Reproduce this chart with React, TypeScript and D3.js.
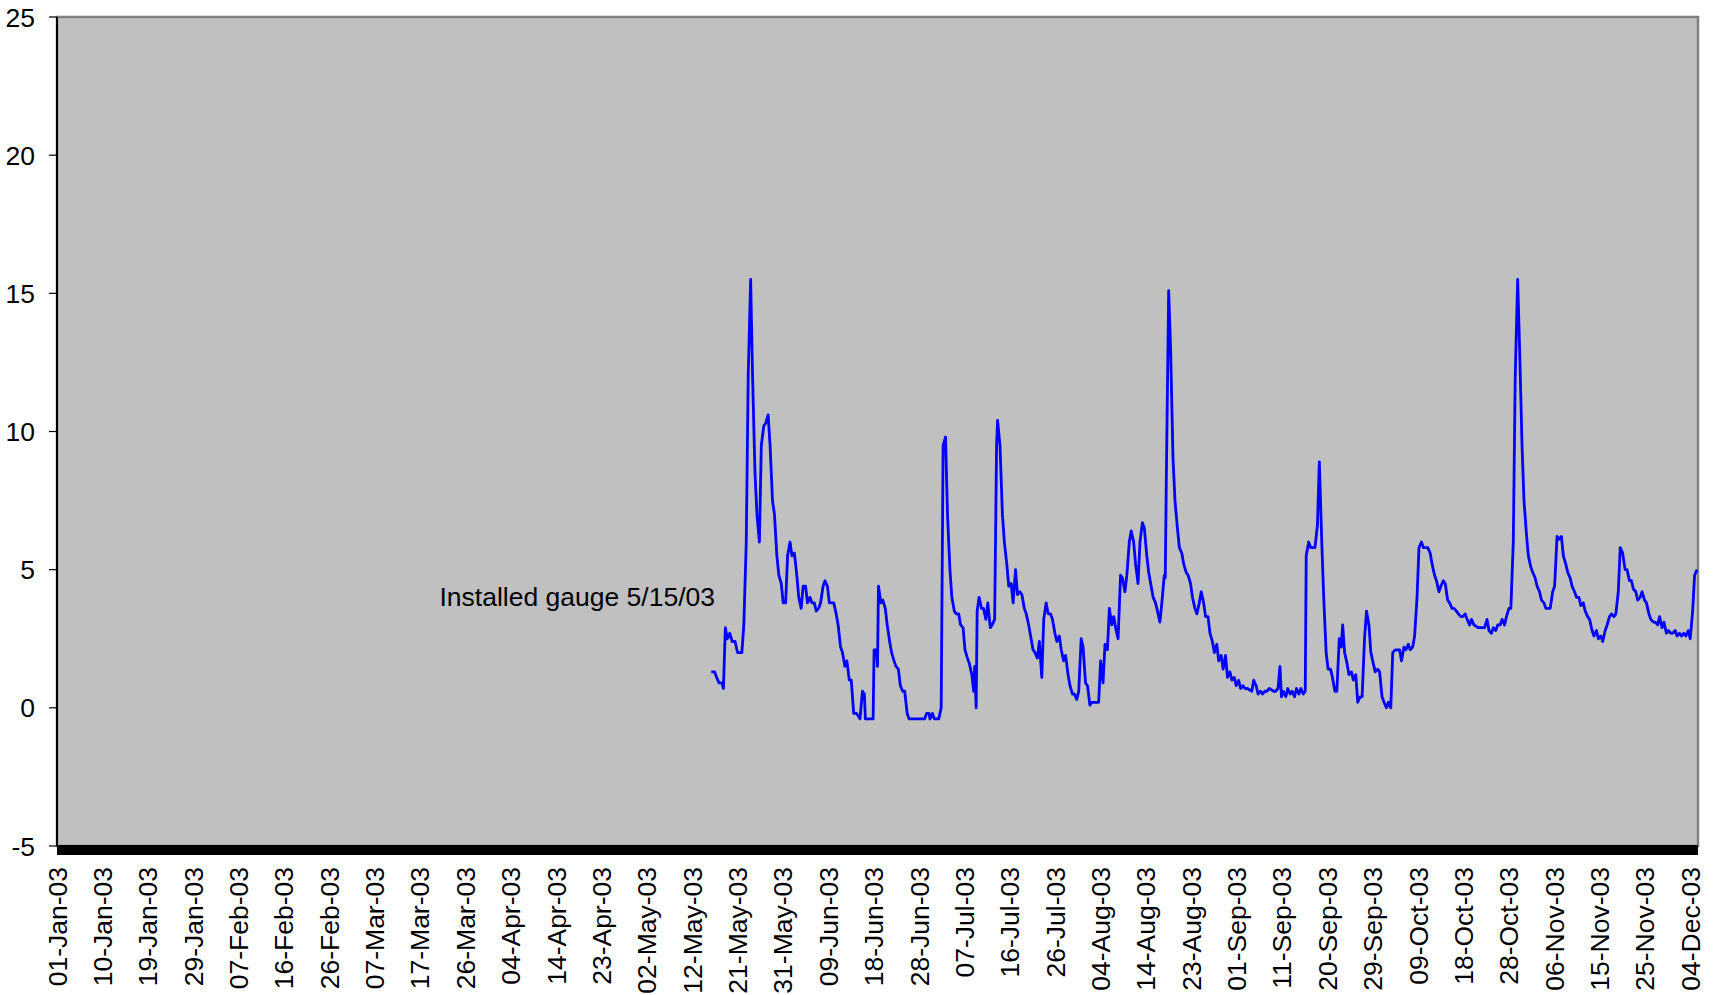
import React from "react";
import * as d3 from "d3";

const tickLabels = [
  "01-Jan-03", "10-Jan-03", "19-Jan-03", "29-Jan-03", "07-Feb-03", "16-Feb-03", "26-Feb-03",
  "07-Mar-03", "17-Mar-03", "26-Mar-03", "04-Apr-03", "14-Apr-03", "23-Apr-03", "02-May-03",
  "12-May-03", "21-May-03", "31-May-03", "09-Jun-03", "18-Jun-03", "28-Jun-03", "07-Jul-03",
  "16-Jul-03", "26-Jul-03", "04-Aug-03", "14-Aug-03", "23-Aug-03", "01-Sep-03", "11-Sep-03",
  "20-Sep-03", "29-Sep-03", "09-Oct-03", "18-Oct-03", "28-Oct-03", "06-Nov-03", "15-Nov-03",
  "25-Nov-03", "04-Dec-03",
];

const yTicks = [-5, 0, 5, 10, 15, 20, 25];

const annotation = "Installed gauge 5/15/03";

// day offset since 01-Jan-03 (category position)
const days = [
  134.6, 135.3, 135.7, 136.2, 136.8, 137.1, 137.5, 137.9, 138.4, 138.9, 139.5, 140.0, 140.9, 141.3,
  141.8, 142.2, 142.7, 143.1, 143.6, 144.0, 144.5, 144.9, 145.4, 145.8, 146.3, 146.7, 147.2, 147.6,
  148.1, 148.5, 149.0, 149.4, 149.9, 150.3, 150.8, 151.2, 151.7, 152.2, 152.6, 153.1, 153.5, 154.0,
  154.4, 154.9, 155.3, 155.8, 156.2, 156.7, 157.1, 157.6, 158.0, 158.5, 158.9, 159.8, 160.3, 160.7,
  161.2, 161.6, 162.1, 162.5, 163.0, 163.4, 163.9, 164.5, 165.2, 165.7, 166.1, 166.3, 167.5, 167.9,
  168.1, 168.6, 168.8, 169.0, 169.5, 169.9, 170.4, 170.8, 171.3, 171.7, 172.2, 172.6, 173.1, 173.5,
  174.0, 174.4, 174.9, 175.3, 176.2, 178.5, 178.9, 179.4, 179.6, 180.1, 180.5, 181.4, 181.9, 182.3,
  182.8, 183.2, 183.7, 184.1, 184.6, 185.0, 185.5, 185.9, 186.4, 186.8, 187.3, 187.7, 188.2, 188.6,
  188.8, 189.1, 189.3, 189.7, 190.2, 190.6, 191.1, 191.5, 192.0, 192.4, 192.9, 193.3, 193.5, 194.0,
  194.5, 194.9, 195.4, 195.8, 196.3, 196.7, 197.2, 197.6, 198.1, 198.5, 199.0, 199.4, 199.9, 200.3,
  200.8, 201.2, 201.7, 202.1, 202.6, 203.0, 203.5, 203.9, 204.4, 204.8, 205.3, 205.7, 206.2, 206.6,
  207.1, 207.5, 208.0, 208.4, 208.9, 209.3, 209.8, 210.2, 210.7, 211.1, 211.6, 212.0, 212.5, 212.9,
  213.4, 214.3, 214.7, 215.2, 215.6, 216.1, 216.5, 217.0, 217.4, 217.9, 218.3, 218.8, 219.2, 219.7,
  220.1, 220.6, 221.0, 221.5, 221.9, 222.4, 222.8, 223.3, 223.7, 224.2, 224.6, 225.1, 225.5, 226.0,
  226.4, 226.9, 227.3, 227.8, 228.0, 228.2, 228.7, 229.1, 229.6, 230.0, 230.5, 230.9, 231.4, 231.8,
  232.3, 232.7, 233.2, 233.6, 234.1, 234.5, 235.0, 235.4, 235.9, 236.3, 236.8, 237.2, 237.7, 238.1,
  238.6, 239.0, 239.5, 239.9, 240.4, 240.8, 241.3, 241.7, 242.2, 242.6, 243.1, 243.5, 244.0, 244.4,
  244.9, 245.8, 246.2, 246.7, 247.1, 247.6, 248.0, 248.5, 248.9, 249.4, 250.3, 250.7, 251.2, 251.6,
  251.9, 252.3, 252.8, 253.2, 253.7, 254.1, 254.6, 255.0, 255.5, 255.9, 256.4, 256.8, 257.0, 257.5,
  257.9, 258.8, 259.3, 259.7, 260.2, 260.6, 261.1, 261.5, 262.0, 262.4, 262.9, 263.3, 263.8, 264.2,
  264.5, 264.9, 265.4, 265.8, 266.3, 266.7, 267.2, 267.6, 268.1, 268.5, 269.0, 269.4, 269.9, 270.3,
  270.8, 271.2, 271.7, 272.1, 272.6, 273.0, 273.5, 273.9, 274.4, 274.8, 275.3, 276.2, 276.6, 277.1,
  277.5, 278.0, 278.4, 278.9, 279.3, 279.8, 280.2, 280.7, 281.1, 282.0, 282.5, 282.9, 283.4, 283.8,
  284.3, 284.7, 285.2, 285.6, 286.1, 286.5, 287.0, 287.4, 287.9, 288.3, 288.8, 289.2, 289.7, 290.1,
  290.6, 291.0, 291.5, 292.4, 293.3, 293.7, 294.2, 294.6, 295.1, 295.5, 296.0, 296.4, 296.9, 297.3,
  297.8, 298.2, 298.7, 299.1, 299.6, 300.0, 300.5, 300.9, 301.4, 301.8, 302.3, 302.7, 303.2, 303.6,
  304.1, 304.5, 305.0, 305.4, 305.9, 306.3, 307.2, 307.7, 308.1, 308.6, 309.0, 309.5, 309.9, 310.4,
  310.8, 311.3, 311.7, 312.2, 312.6, 313.1, 313.5, 314.0, 314.4, 314.9, 315.3, 315.8, 316.2, 316.7,
  317.1, 317.6, 318.0, 318.5, 318.9, 319.4, 319.8, 320.3, 320.7, 321.2, 321.6, 322.1, 322.6, 323.0,
  323.5, 323.9, 324.3, 324.8, 325.2, 325.7, 326.1, 326.6, 327.0, 327.5, 327.9, 328.4, 328.8, 329.3,
  329.7, 330.2, 330.6, 331.1, 331.5, 332.0, 332.4, 332.9, 333.3, 333.8, 334.2, 334.7, 335.1, 335.6,
  336.0, 336.5, 336.9, 337.4,
];

const levels = [
  1.3, 1.3, 1.1, 0.9, 0.9, 0.7, 2.9, 2.5, 2.7, 2.4, 2.4, 2.0, 2.0, 3.0,
  6.0, 12.0, 15.5, 12.0, 8.5, 7.0, 6.0, 9.5, 10.2, 10.3, 10.6, 9.5, 7.5, 7.0,
  5.5, 4.8, 4.5, 3.8, 3.8, 5.5, 6.0, 5.5, 5.6, 4.8, 4.0, 3.6, 4.4, 4.4,
  3.8, 4.0, 3.8, 3.8, 3.5, 3.6, 3.8, 4.4, 4.6, 4.4, 3.8, 3.8, 3.4, 3.0,
  2.2, 2.0, 1.5, 1.7, 1.0, 1.0, -0.2, -0.2, -0.4, 0.6, 0.5, -0.4, -0.4, -0.4,
  2.1, 2.1, 1.5, 4.4, 3.8, 3.9, 3.6, 3.0, 2.4, 2.0, 1.7, 1.5, 1.4, 0.8,
  0.6, 0.6, -0.2, -0.4, -0.4, -0.4, -0.2, -0.2, -0.4, -0.2, -0.4, -0.4, 0.0, 9.5,
  9.8, 7.0, 5.0, 4.0, 3.5, 3.4, 3.4, 3.0, 2.9, 2.1, 1.8, 1.6, 1.2, 0.6,
  1.5, 0.0, 3.5, 4.0, 3.6, 3.6, 3.2, 3.8, 2.9, 3.0, 3.2, 9.5, 10.4, 9.5,
  7.0, 6.0, 5.2, 4.4, 4.5, 3.8, 5.0, 4.1, 4.2, 4.1, 3.6, 3.4, 3.0, 2.6,
  2.1, 2.0, 1.8, 2.4, 1.1, 3.2, 3.8, 3.4, 3.4, 3.2, 2.7, 2.4, 2.6, 2.1,
  1.7, 1.9, 1.2, 0.8, 0.5, 0.5, 0.3, 0.6, 2.5, 2.2, 0.9, 0.8, 0.1, 0.2,
  0.2, 0.2, 1.7, 0.9, 2.3, 2.1, 3.6, 3.0, 3.3, 2.8, 2.5, 4.8, 4.7, 4.2,
  4.8, 6.0, 6.4, 6.0, 5.2, 4.5, 6.0, 6.7, 6.5, 5.5, 4.9, 4.4, 4.0, 3.8,
  3.5, 3.1, 3.8, 4.8, 4.7, 8.0, 15.1, 13.0, 9.0, 7.5, 6.5, 5.8, 5.6, 5.2,
  4.9, 4.8, 4.5, 4.0, 3.6, 3.4, 3.8, 4.2, 3.8, 3.3, 3.3, 2.7, 2.4, 2.0,
  2.3, 1.7, 1.9, 1.4, 1.9, 1.1, 1.3, 1.0, 1.1, 0.8, 1.0, 0.7, 0.8, 0.7,
  0.7, 0.6, 1.0, 0.8, 0.5, 0.6, 0.5, 0.6, 0.6, 0.7, 0.6, 0.6, 0.7, 1.5,
  0.4, 0.6, 0.4, 0.7, 0.5, 0.6, 0.4, 0.7, 0.5, 0.7, 0.5, 0.6, 5.5, 6.0,
  5.8, 5.8, 6.6, 8.9, 6.0, 4.0, 2.0, 1.4, 1.4, 1.1, 0.6, 0.6, 2.5, 2.2,
  3.0, 2.0, 1.6, 1.2, 1.3, 1.0, 1.2, 0.2, 0.4, 0.4, 2.5, 3.5, 3.0, 2.0,
  1.6, 1.3, 1.4, 1.3, 0.4, 0.2, 0.0, 0.2, 0.0, 2.0, 2.1, 2.1, 1.7, 2.2,
  2.1, 2.3, 2.1, 2.2, 2.6, 4.0, 5.8, 6.0, 5.8, 5.8, 5.6, 5.2, 4.8, 4.6,
  4.2, 4.4, 4.6, 4.5, 3.9, 3.8, 3.6, 3.6, 3.5, 3.4, 3.3, 3.3, 3.4, 3.2,
  3.0, 3.2, 3.0, 2.9, 2.9, 2.9, 3.2, 2.8, 2.7, 2.9, 2.8, 3.0, 3.0, 3.2,
  3.0, 3.3, 3.6, 3.6, 6.0, 12.0, 15.5, 13.0, 9.5, 7.5, 6.3, 5.5, 5.1, 4.9,
  4.7, 4.4, 4.2, 3.9, 3.8, 3.6, 3.6, 4.2, 4.4, 6.2, 6.1, 6.2, 5.5, 5.2,
  4.9, 4.7, 4.4, 4.2, 4.0, 4.0, 3.7, 3.8, 3.5, 3.3, 3.2, 2.8, 2.6, 2.8,
  2.5, 2.6, 2.4, 2.8, 3.0, 3.3, 3.4, 3.3, 3.4, 4.2, 5.8, 5.6, 5.0, 5.0,
  4.6, 4.6, 4.3, 4.2, 3.9, 4.0, 4.2, 3.9, 3.8, 3.4, 3.2, 3.1, 3.1, 3.0,
  3.3, 2.9, 3.1, 2.7, 2.8, 2.7, 2.7, 2.8, 2.6, 2.7, 2.6, 2.7, 2.6, 2.8,
  2.5, 3.5, 4.8, 5.0,
];

const FONT = "Arial, 'Liberation Sans', sans-serif";
const FS = 26.5;

export default function App() {
  const W = 1717;
  const H = 995;
  const left = 57;
  const right = 1698;
  const top = 17;
  const bottom = 846;
  const daysPerLabel = 28 / 3;

  const x = d3.scaleLinear().domain([0, 337.6]).range([left, right]);
  const y = d3.scaleLinear().domain([-5, 25]).range([bottom, top]);

  const pts = levels.map((v, i) => [days[i], v] as [number, number]);
  const line = d3
    .line<[number, number]>()
    .x((d) => x(d[0]))
    .y((d) => y(d[1]));

  return (
    <div style={{ position: "absolute", left: 0, top: 0 }}>
      <svg width={W} height={H} style={{ display: "block", background: "#fff" }}>
        <rect
          x={left}
          y={top}
          width={right - left}
          height={bottom - top}
          fill="#C0C0C0"
          stroke="#808080"
          strokeWidth={2.5}
        />
        <path d={line(pts) || ""} fill="none" stroke="#0000FF" strokeWidth={2.8} strokeLinejoin="round" />
        {/* y axis */}
        <line x1={left} x2={left} y1={top} y2={bottom} stroke="#000" strokeWidth={2} />
        {yTicks.map((t) => (
          <g key={t}>
            <line x1={left - 8} x2={left} y1={y(t)} y2={y(t)} stroke="#000" strokeWidth={1.2} />
            <text
              x={35}
              y={y(t)}
              dy="0.36em"
              textAnchor="end"
              fontFamily={FONT}
              fontSize={FS}
              fill="#000"
            >
              {t}
            </text>
          </g>
        ))}
        {/* x axis heavy line */}
        <rect x={left} y={bottom - 1} width={right - left} height={10} fill="#000" />
        {tickLabels.map((lab, i) => {
          const px = x(i * daysPerLabel);
          return (
            <text
              key={lab}
              transform={`translate(${px},867) rotate(-90)`}
              dy="0.36em"
              textAnchor="end"
              fontFamily={FONT}
              fontSize={FS}
              fill="#000"
            >
              {lab}
            </text>
          );
        })}
        <text x={715} y={606} textAnchor="end" fontFamily={FONT} fontSize={FS} fill="#000">
          {annotation}
        </text>
      </svg>
    </div>
  );
}
